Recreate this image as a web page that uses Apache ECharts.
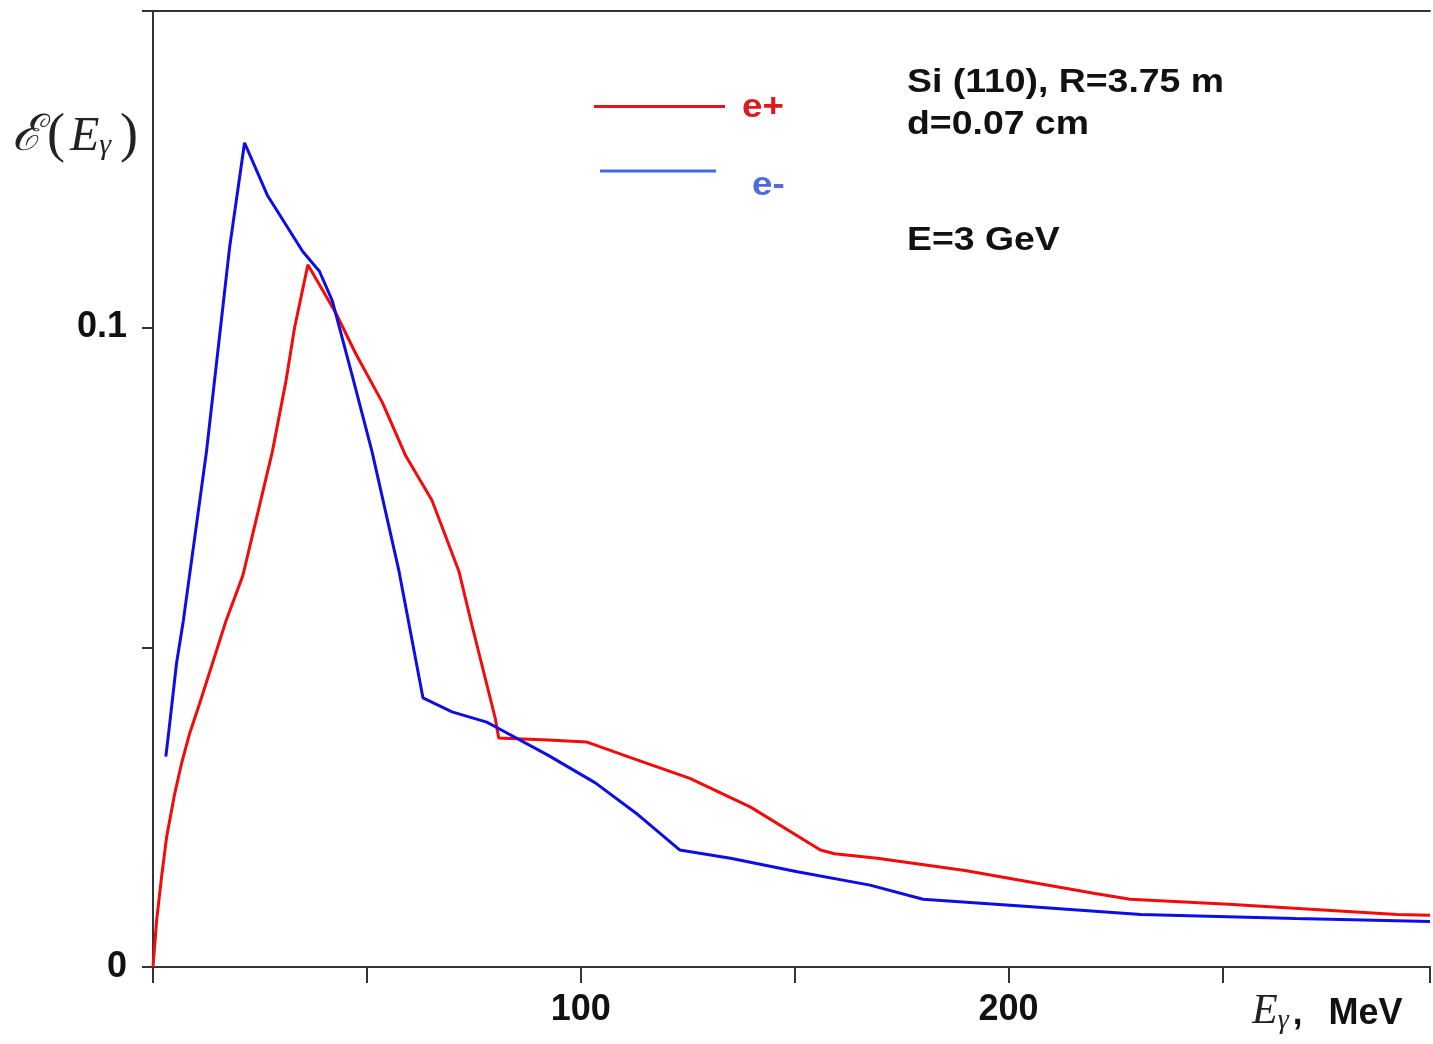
<!DOCTYPE html>
<html>
<head>
<meta charset="utf-8">
<script src="https://cdn.jsdelivr.net/npm/echarts@6/dist/echarts.min.js"></script>
<style>
html,body{margin:0;padding:0;background:#fff;overflow:hidden;}
#chart{width:1433px;height:1044px;}
</style>
</head>
<body>
<div id="chart"></div>
<script>
// e+ (positrons) spectrum
var ePlusX = [0, 0.85, 2.0, 3.2, 5.1, 6.7, 8.6, 10.9, 12.9, 17.1, 21.0, 23.7, 27.9, 31.1, 33.1, 36.2, 42.8, 47.4, 53.6, 59.1, 65.2, 71.5, 74.5, 80.0, 80.8, 92.4, 101.3, 111.8, 125.5, 139.7, 156.0, 159.3, 169.3, 189.8, 220.2, 228.4, 251.4, 290.8, 298.5];
var ePlusY = [0, 0.0073, 0.0141, 0.0204, 0.0272, 0.0319, 0.0366, 0.0412, 0.0454, 0.0542, 0.0612, 0.0688, 0.0806, 0.0917, 0.1000, 0.1098, 0.1022, 0.0959, 0.0883, 0.0799, 0.0730, 0.0619, 0.0536, 0.0389, 0.0358, 0.0355, 0.0352, 0.0327, 0.0295, 0.0250, 0.0183, 0.0177, 0.0170, 0.0151, 0.0115, 0.0106, 0.0098, 0.0082, 0.0081];
// e- (electrons) spectrum
var eMinusX = [3.0, 4.0, 5.5, 7.1, 12.5, 17.9, 21.4, 26.8, 35.0, 38.9, 41.9, 46.6, 51.2, 57.5, 63.1, 69.9, 78.0, 80.8, 92.4, 103.4, 113.4, 123.1, 135.0, 150.6, 167.6, 180.0, 203.7, 230.9, 267.0, 298.5];
var eMinusY = [0.0329, 0.0386, 0.0475, 0.0542, 0.0806, 0.1125, 0.1289, 0.1206, 0.1119, 0.1088, 0.1042, 0.0924, 0.0806, 0.0619, 0.0421, 0.0399, 0.0383, 0.0373, 0.0331, 0.0288, 0.0238, 0.0183, 0.0170, 0.0149, 0.0128, 0.0106, 0.0095, 0.0082, 0.0076, 0.0071];
// tick labels shown
var xTickLabels = [100, 200];
var yTickLabels = [0, 0.1];
var legendNames = ['e+', 'e-'];
var infoLines = ['Si (110), R=3.75 m', 'd=0.07 cm', 'E=3 GeV'];

function pairs(xs, ys) { return xs.map(function (x, i) { return [x, ys[i]]; }); }

var chart = echarts.init(document.getElementById('chart'), null, {renderer: 'canvas', width: 1433, height: 1044});
var axisColor = '#333333';
var sans = '"Liberation Sans", Arial, sans-serif';
var serif = '"Liberation Serif", "DejaVu Serif", serif';

function infoText(str, y) {
  return {type: 'text', x: 907, y: y, scaleX: 1.1, originX: 0,
    style: {text: str, fontSize: 34, fontWeight: 'bold', fontFamily: sans, fill: '#111', verticalAlign: 'middle'}};
}

chart.setOption({
  animation: false,
  backgroundColor: '#ffffff',
  grid: {left: 153, right: 0, top: 11, bottom: 77, containLabel: false},
  xAxis: [{
    type: 'value', min: 0, max: 298.5, interval: 50,
    axisLine: {show: true, onZero: false, lineStyle: {color: axisColor, width: 2}},
    axisTick: {show: true, length: 16, lineStyle: {color: axisColor, width: 2}},
    splitLine: {show: false},
    axisLabel: {
      margin: 25, fontSize: 36, fontWeight: 'bold', fontFamily: sans, color: '#111',
      formatter: function (v) { return xTickLabels.indexOf(Math.round(v)) >= 0 && Math.abs(v - Math.round(v)) < 1e-6 ? String(Math.round(v)) : ''; }
    }
  }, {
    type: 'value', min: 0, max: 298.5, position: 'top',
    axisLine: {show: true, onZero: false, lineStyle: {color: axisColor, width: 2}},
    axisTick: {show: false}, axisLabel: {show: false}, splitLine: {show: false}
  }],
  yAxis: {
    type: 'value', min: 0, max: 0.1495, interval: 0.05,
    axisLine: {show: true, onZero: false, lineStyle: {color: axisColor, width: 2}},
    axisTick: {show: true, length: 11, lineStyle: {color: axisColor, width: 2}},
    splitLine: {show: false},
    axisLabel: {
      margin: 26, fontSize: 36, fontWeight: 'bold', fontFamily: sans, color: '#111',
      formatter: function (v) {
        for (var i = 0; i < yTickLabels.length; i++) {
          if (Math.abs(v - yTickLabels[i]) < 1e-9) return String(yTickLabels[i]);
        }
        return '';
      }
    }
  },
  series: [{
    name: legendNames[0], type: 'line', showSymbol: false, symbol: 'none',
    data: pairs(ePlusX, ePlusY),
    lineStyle: {color: '#f50a0a', width: 3}, z: 2
  }, {
    name: legendNames[1], type: 'line', showSymbol: false, symbol: 'none',
    data: pairs(eMinusX, eMinusY),
    lineStyle: {color: '#0d0de8', width: 3}, z: 3
  }],
  graphic: [
    // legend
    {type: 'line', shape: {x1: 594, y1: 106.5, x2: 725, y2: 106.5}, style: {stroke: '#e8141c', lineWidth: 3}},
    {type: 'text', x: 742, y: 108, scaleX: 1.08, style: {text: legendNames[0], fontSize: 34, fontWeight: 'bold', fontFamily: sans, fill: '#e0191f', verticalAlign: 'middle'}},
    {type: 'line', shape: {x1: 600, y1: 171, x2: 716, y2: 171}, style: {stroke: '#4566e6', lineWidth: 3}},
    {type: 'text', x: 752, y: 186, scaleX: 1.08, style: {text: legendNames[1], fontSize: 34, fontWeight: 'bold', fontFamily: sans, fill: '#4d6ce0', verticalAlign: 'middle'}},
    // info text
    infoText(infoLines[0], 83),
    infoText(infoLines[1], 125),
    infoText(infoLines[2], 241),
    // y axis name
    {type: 'text', x: 12, y: 137, style: {
      text: '{s|ℰ}{p|(}{e|E}{g|γ}{p|)}', verticalAlign: 'middle',
      rich: {
        s: {fontFamily: serif, fontStyle: 'italic', fontSize: 50, fill: '#222'},
        p: {fontFamily: serif, fontSize: 54, fill: '#222', padding: [0, 5, 0, 5]},
        e: {fontFamily: serif, fontStyle: 'italic', fontSize: 48, fill: '#222'},
        g: {fontFamily: serif, fontStyle: 'italic', fontSize: 30, fill: '#222', padding: [18, 4, 0, 0]}
      }
    }},
    // x axis name
    {type: 'text', x: 1252, y: 1012, style: {
      text: '{e|E}{g|γ}{c|,}{m|MeV}', verticalAlign: 'middle',
      rich: {
        e: {fontFamily: serif, fontStyle: 'italic', fontSize: 42, fill: '#222'},
        g: {fontFamily: serif, fontStyle: 'italic', fontSize: 28, fill: '#222', padding: [18, 0, 0, 0]},
        c: {fontFamily: sans, fontWeight: 'bold', fontSize: 35, fill: '#111', padding: [4, 26, 0, 4]},
        m: {fontFamily: sans, fontWeight: 'bold', fontSize: 36, fill: '#111', padding: [4, 0, 0, 0]}
      }
    }}
  ]
});
</script>
</body>
</html>
